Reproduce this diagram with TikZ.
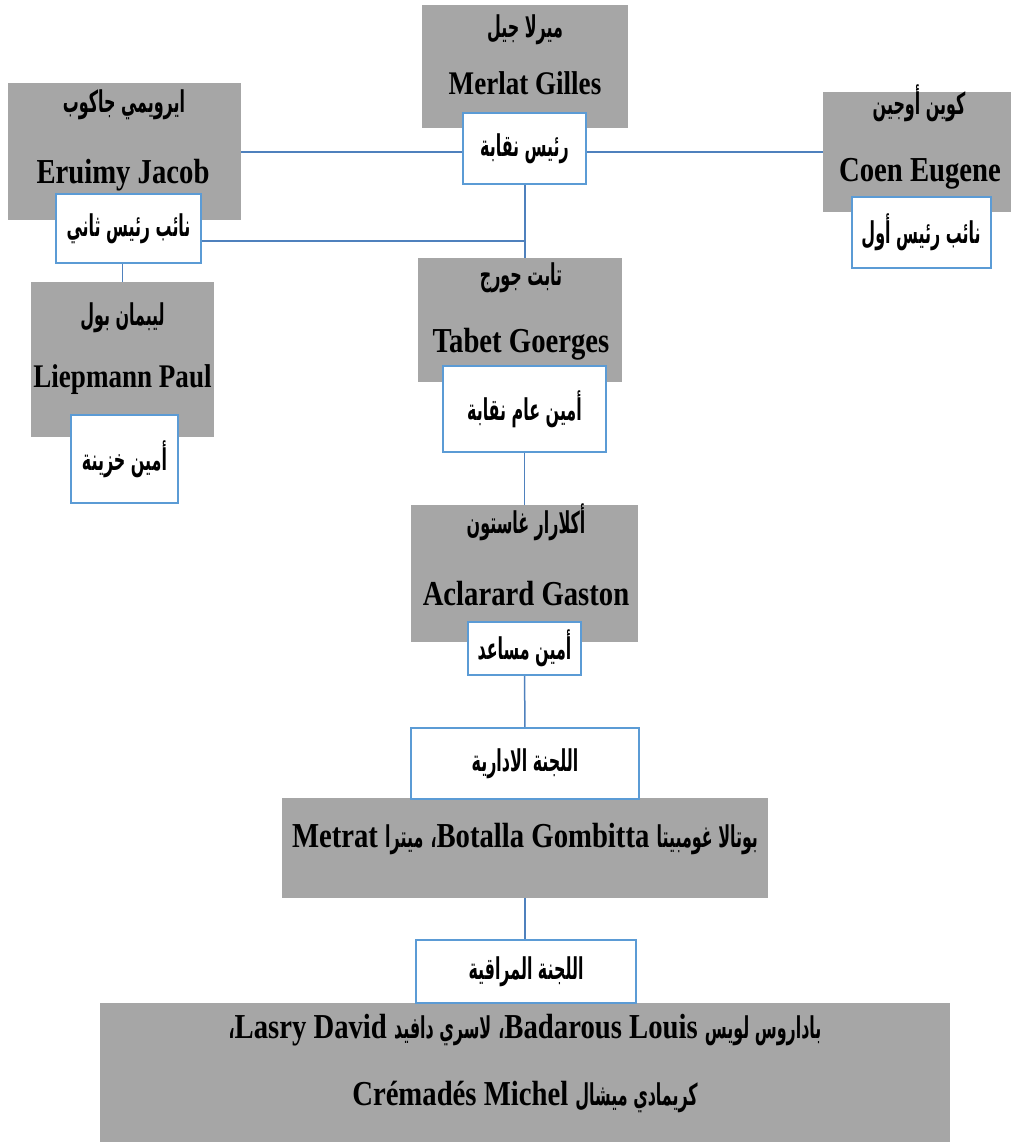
\documentclass[tikz,border=0pt]{standalone}
\usepackage{fontspec}
\setmainfont{Liberation Serif}[FakeStretch=0.82]
\newfontfamily\ar[Script=Arabic,FakeStretch=0.53]{DejaVu Sans}
\TeXXeTstate=1
\usetikzlibrary{backgrounds}
\definecolor{boxgray}{HTML}{A6A6A6}
\definecolor{lblue}{HTML}{5B9BD5}
\definecolor{cblue}{HTML}{4F81BD}
\newcommand{\arb}{\ar\bfseries\fontsize{30}{32}\selectfont}
\begin{document}
\begin{tikzpicture}[x=1pt,y=-1pt,
  graybox/.style={fill=boxgray,draw=none,inner sep=0pt,outer sep=0pt},
  lbl/.style={fill=white,draw=lblue,line width=2pt,inner sep=0pt,outer sep=0pt,
    font=\ar\bfseries\fontsize{30}{32}\selectfont},
  arname/.style={anchor=base,inner sep=0pt,font=\arb},
  latname/.style={anchor=base,inner sep=0pt,font=\bfseries\fontsize{35}{36}\selectfont},
  botline/.style={anchor=base,inner sep=0pt,font=\bfseries\fontsize{35}{36}\selectfont},
  conn/.style={draw=cblue,line width=1.5pt}]
\useasboundingbox (0,0) rectangle (1012,1142);
% gray boxes
\node[graybox,minimum width=206pt,minimum height=123pt] (g1) at (525,66.5) {};
\node[graybox,minimum width=233pt,minimum height=137pt] (g2) at (124.5,151.5) {};
\node[graybox,minimum width=188pt,minimum height=120pt] (g3) at (917,152) {};
\node[graybox,minimum width=183pt,minimum height=155pt] (g4) at (122.5,359.5) {};
\node[graybox,minimum width=204pt,minimum height=124pt] (g5) at (520,320) {};
\node[graybox,minimum width=227pt,minimum height=137pt] (g6) at (524.5,573.5) {};
\node[graybox,minimum width=486pt,minimum height=100pt] (g7) at (525,848) {};
\node[graybox,minimum width=850pt,minimum height=139pt] (g8) at (525,1072.5) {};
% names
\node[arname] (a1) at (525,38) {\beginR ميرلا جيل\endR};
\node[latname,font=\bfseries\fontsize{33}{34}\selectfont] (n1) at (525,95) {Merlat Gilles};
\node[arname] (a2) at (124,113) {\beginR ايرويمي جاكوب\endR};
\node[latname] (n2) at (123,183) {Eruimy Jacob};
\node[arname] (a3) at (919,115) {\beginR كوين أوجين\endR};
\node[latname] (n3) at (920,182) {Coen Eugene};
\node[arname] (a4) at (122.5,325) {\beginR ليبمان بول\endR};
\node[latname,font=\bfseries\fontsize{33}{34}\selectfont] (n4) at (122.5,387) {Liepmann Paul};
\node[arname] (a5) at (521,285) {\beginR تابت جورج\endR};
\node[latname] (n5) at (521,352) {Tabet Goerges};
\node[arname] (a6) at (526,533) {\beginR أكلارار غاستون\endR};
\node[latname] (n6) at (526,605) {Aclarard Gaston};
\node[botline] (t7) at (525,847)
  {Metrat {\arb\beginR ميترا\endR} {\arb ،}Botalla Gombitta {\arb\beginR بوتالا غومبيتا\endR}};
\node[botline] (t8a) at (525,1038)
  {{\arb ،}Lasry David {\arb\beginR لاسري دافيد\endR} {\arb ،}Badarous Louis {\arb\beginR باداروس لويس\endR}};
\node[botline] (t8b) at (525,1105)
  {Crémadés Michel {\arb\beginR كريمادي ميشال\endR}};
% labels
\node[lbl,minimum width=123pt,minimum height=71pt] (lb1) at (524.5,148.5) {\beginR رئيس نقابة\endR};
\node[lbl,minimum width=145pt,minimum height=69pt] (lb2) at (128.5,228.5) {\beginR نائب رئيس ثاني\endR};
\node[lbl,minimum width=139pt,minimum height=71pt] (lb3) at (921,232.5) {\beginR نائب رئيس أول\endR};
\node[lbl,minimum width=107pt,minimum height=88pt] (lb4) at (124.5,459) {\beginR أمين خزينة\endR};
\node[lbl,minimum width=163pt,minimum height=86pt] (lb5) at (524.5,409) {\beginR أمين عام نقابة\endR};
\node[lbl,minimum width=113pt,minimum height=53pt] (lb6) at (524.5,648.5) {\beginR أمين مساعد\endR};
\node[lbl,minimum width=228pt,minimum height=71pt] (lb7) at (525,763.5) {\beginR اللجنة الادارية\endR};
\node[lbl,minimum width=220pt,minimum height=63pt] (lb8) at (526,971.5) {\beginR اللجنة المراقية\endR};
% connectors
\coordinate (j1) at (525,241);
\begin{pgfonlayer}{background}
\draw[conn] (g3.west) -- (g3.west -| lb1.east);
\draw[conn] ([yshift=-3.5pt]lb1.west) -- ([yshift=-3.5pt]lb1.west -| g2.east);
\draw[conn] (lb1.south -| j1) -- (j1 |- g5.north);
\draw[conn] (j1) -- (j1 -| lb2.east);
\draw[conn] (g4.north) -- (g4.north |- lb2.south);
\draw[conn] (lb5.south) -- (lb5.south |- g6.north);
\draw[conn] (lb6.south) -- (lb7.north);
\draw[conn] (g7.south) -- (g7.south |- lb8.north);
\end{pgfonlayer}
\end{tikzpicture}
\end{document}
